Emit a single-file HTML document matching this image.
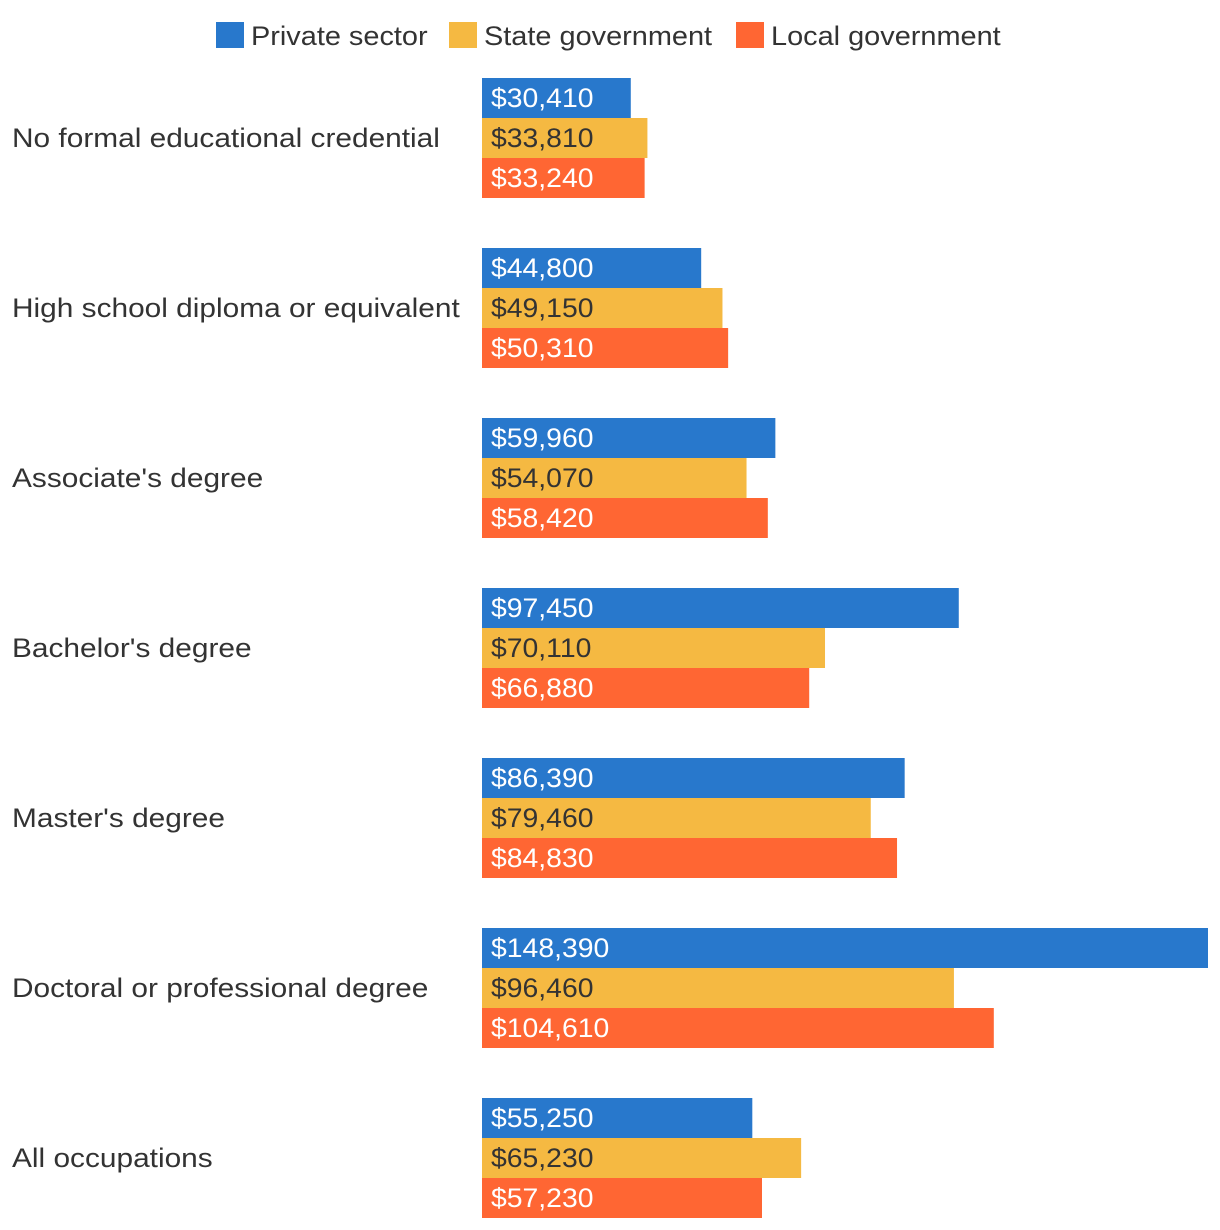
<!DOCTYPE html>
<html><head><meta charset="utf-8"><style>
html,body{margin:0;padding:0;background:#fff;}
svg{display:block;font-family:"Liberation Sans","DejaVu Sans",sans-serif;}
</style></head><body>
<svg id="chart" width="1220" height="1230"></svg>
<script>
const categories = ["No formal educational credential","High school diploma or equivalent","Associate's degree","Bachelor's degree","Master's degree","Doctoral or professional degree","All occupations"];
const seriesNames = ["Private sector","State government","Local government"];
const privateVals = [30410,44800,59960,97450,86390,148390,55250];
const stateVals = [33810,49150,54070,70110,79460,96460,65230];
const localVals = [33240,50310,58420,66880,84830,104610,57230];
const allSeries = [privateVals, stateVals, localVals];
const colors = ["#2878cc","#f5b942","#ff6633"];
const textColors = ["#ffffff","#333333","#ffffff"];
const NS = "http://www.w3.org/2000/svg";
const svg = document.getElementById('chart');
const x0 = 482, xMaxPx = 1208, maxVal = 148390;
const xScale = v => (v / maxVal) * (xMaxPx - x0);
const groupTop = i => 78 + i * 170;
const barH = 40;
function mk(tag, attrs){const e=document.createElementNS(NS,tag);for(const k in attrs)e.setAttribute(k,attrs[k]);svg.appendChild(e);return e;}
function stretch(t, f){const w=t.getComputedTextLength();t.setAttribute('textLength',(w*f).toFixed(1));t.setAttribute('lengthAdjust','spacingAndGlyphs');}
const fmt = v => "$" + v.toLocaleString("en-US");
// legend
const legX = [216,449,736];
seriesNames.forEach((n,s)=>{
  const r = mk('rect',{x:legX[s],y:22,width:28,height:26,fill:colors[s]});
  
  
  const t = mk('text',{x:legX[s]+35,y:45,'font-size':27,fill:'#333'});
  t.textContent = n;
  
  
  stretch(t,1.07);
});
categories.forEach((c,i)=>{
  const t = mk('text',{x:12,y:groupTop(i)+69,'font-size':27,fill:'#333'});
  t.textContent = c;
  
  
  stretch(t,1.105);
  allSeries.forEach((vals,s)=>{
    const y = groupTop(i) + s*barH;
    const r = mk('rect',{x:x0,y:y,width:xScale(vals[i]),height:barH,fill:colors[s]});
    
    
    const vt = mk('text',{x:x0+9,y:y+29,'font-size':27,fill:textColors[s]});
    vt.textContent = fmt(vals[i]);
    
    
    stretch(vt,1.05);
  });
});
</script>
</body></html>
